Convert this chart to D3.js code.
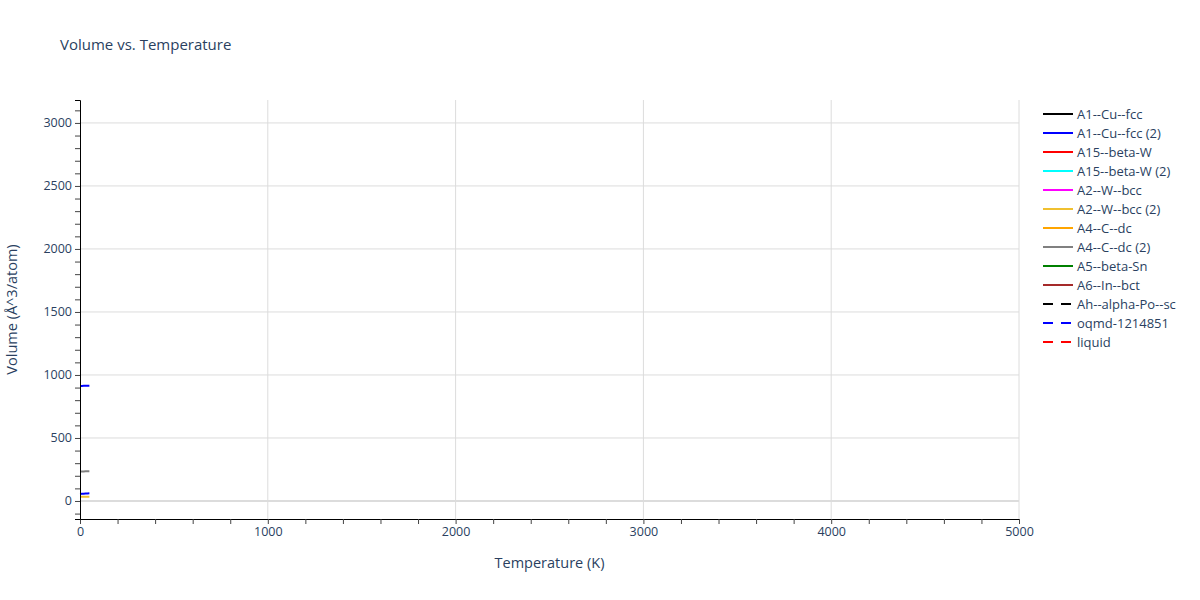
<!DOCTYPE html>
<meta charset="utf-8">
<style>
    body { margin: 0; background: #fff; }
    text { font-family: "Open Sans", "Noto Sans", sans-serif; }
</style>
<body>
<div id="chart"></div>
<script src="https://cdn.jsdelivr.net/npm/d3@7"></script>
<script>
  // temperature points (K)
  var temps = [0, 10, 20, 30, 40, 50];

  // legend entries
  var names = ["A1--Cu--fcc", "A1--Cu--fcc (2)", "A15--beta-W", "A15--beta-W (2)", "A2--W--bcc",
    "A2--W--bcc (2)", "A4--C--dc", "A4--C--dc (2)", "A5--beta-Sn", "A6--In--bct",
    "Ah--alpha-Po--sc", "oqmd-1214851", "liquid"];
  var colors = ["black", "blue", "red", "cyan", "magenta", "#f0c030", "orange", "gray", "green",
    "brown", "black", "blue", "red"];
  var dashed = [false, false, false, false, false, false, false, false, false, false, true, true, true];

  // volumes (A^3/atom) per visible series
  var volA1b = [913, 913, 914, 914, 915, 915];
  var volA15b = [56, 57, 58, 59, 60, 61];
  var volA2b = [33, 33, 33, 34, 34, 34];
  var volA4b = [234, 234, 234, 235, 235, 235];

  var series = [
    { c: "blue", v: volA1b },
    { c: "gray", v: volA4b },
    { c: "#f0c030", v: volA2b },
    { c: "blue", v: volA15b }
  ];

  var xTicks = [0, 1000, 2000, 3000, 4000, 5000];
  var yTicks = [0, 500, 1000, 1500, 2000, 2500, 3000];

  var W = 1200, H = 600;
  var margin = { top: 100, right: 181, bottom: 81, left: 80 };
  var width = W - margin.left - margin.right,
    height = H - margin.top - margin.bottom;

  var svg = d3.select("#chart").append("svg").attr("width", W).attr("height", H);
  var g = svg.append("g").attr("transform", "translate(" + margin.left + "," + margin.top + ")");

  var x = d3.scaleLinear().domain([0, 5000]).range([0, width]);
  var y = d3.scaleLinear().domain([-143, 3182]).range([height, 0]);

  // grid
  g.selectAll(".gx").data(xTicks.slice(1)).enter().append("line")
    .attr("x1", d => x(d)).attr("x2", d => x(d)).attr("y1", 0).attr("y2", height)
    .attr("stroke", "#dcdcdc").attr("stroke-width", 1);
  g.selectAll(".gy").data(yTicks).enter().append("line")
    .attr("x1", 0).attr("x2", width).attr("y1", d => y(d)).attr("y2", d => y(d))
    .attr("stroke", "#dcdcdc").attr("stroke-width", d => d === 0 ? 2 : 1);

  // data lines
  var line = d3.line().defined(d => d[1] != null).x(d => x(d[0])).y(d => y(d[1]));
  series.forEach(function (s) {
    g.append("path").datum(temps.map((t, i) => [t, s.v[i]]))
      .attr("d", line).attr("fill", "none").attr("stroke", s.c).attr("stroke-width", 2);
  });

  // axes
  var xAxis = d3.axisBottom(x).tickValues(d3.range(0, 5001, 200))
    .tickFormat(d => d % 1000 === 0 ? d : "").tickSize(5).tickPadding(3);
  var gx = g.append("g").attr("transform", "translate(0," + height + ")").call(xAxis);
  var yAxis = d3.axisLeft(y).tickValues(d3.range(-100, 3101, 100))
    .tickFormat(d => d % 500 === 0 ? d : "").tickSize(5).tickPadding(3);
  var gy = g.append("g").call(yAxis);
  [gx, gy].forEach(function (a) {
    a.select(".domain").attr("stroke", "black").attr("stroke-width", 1);
    a.selectAll(".tick line").attr("stroke", "#444");
    a.selectAll(".tick text").attr("fill", "#2a3f5f").style("font-size", "12.5px")
      .style("font-family", "'Open Sans', sans-serif");
  });

  // titles
  svg.append("text").attr("x", 60).attr("y", 50).text("Volume vs. Temperature")
    .attr("fill", "#2a3f5f").style("font-size", "15px");
  svg.append("text").attr("x", margin.left + width / 2).attr("y", 568).attr("text-anchor", "middle")
    .text("Temperature (K)").attr("fill", "#2a3f5f").style("font-size", "14.5px");
  svg.append("text").attr("transform", "translate(17," + (margin.top + height / 2) + ") rotate(-90)")
    .attr("text-anchor", "middle").text("Volume (Å^3/atom)").attr("fill", "#2a3f5f").style("font-size", "14.5px");

  // legend
  var leg = svg.append("g").attr("transform", "translate(1043,114)");
  names.forEach(function (n, i) {
    var row = leg.append("g").attr("transform", "translate(0," + i * 19 + ")");
    row.append("line").attr("x1", 0).attr("x2", 30).attr("y1", 0).attr("y2", 0)
      .attr("stroke", colors[i]).attr("stroke-width", 2)
      .attr("stroke-dasharray", dashed[i] ? "10,8" : null);
    row.append("text").attr("x", 34).attr("y", 4.5).text(n)
      .attr("fill", "#2a3f5f").style("font-size", "13px");
  });
</script>
</body>
